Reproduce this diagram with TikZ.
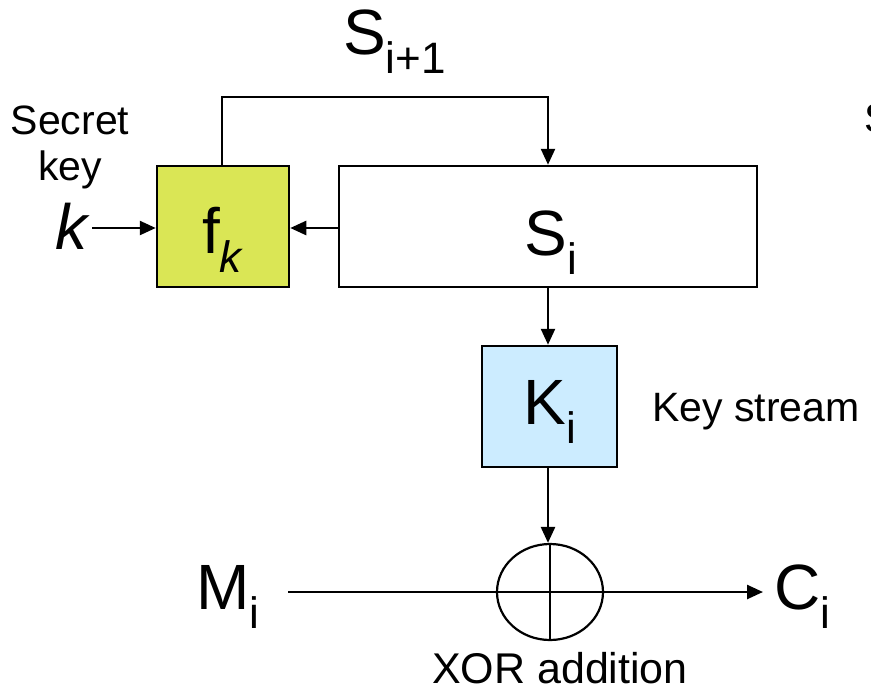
\documentclass[tikz,border=0pt]{standalone}
\usepackage{fontspec}
\setmainfont{Liberation Sans}
\usetikzlibrary{arrows.meta,shapes.geometric}
\definecolor{fkfill}{RGB}{218,230,85}
\definecolor{kifill}{RGB}{204,236,255}
\tikzset{
  conn/.style={line width=2.5pt, -{Triangle[length=16pt,width=14pt]}},
  box/.style={draw, line width=2.5pt, inner sep=0pt},
  big/.style={font=\fontsize{64}{70}\selectfont, inner sep=0pt},
  small/.style={font=\fontsize{41}{46}\selectfont, inner sep=0pt},
}
\newcommand{\sbs}[1]{\raisebox{-0.3em}{\fontsize{44}{46}\selectfont #1}}
\begin{document}
\begin{tikzpicture}[x=1pt,y=1pt]
\useasboundingbox (0,0) rectangle (871,-691);
% boxes
\node[box, fill=fkfill, minimum width=132pt, minimum height=121pt] (fk) at (223,-226.5) {};
\node[box, fill=white, minimum width=418pt, minimum height=121pt] (si) at (548,-226.5) {};
\node[box, fill=kifill, minimum width=135pt, minimum height=121pt] (ki) at (549.5,-406.5) {};
\node[draw, line width=2.2pt, ellipse, minimum width=106pt, minimum height=96pt, inner sep=0pt] (xor) at (550,-592) {};
% labels inside boxes
\node[big] at (222,-240) {f\sbs{\itshape k}};
\node[big] at (551,-243) {S\sbs{i}};
\node[big] at (550,-412) {K\sbs{i}};
% outside labels
\node[small] (sec) at (70,-120) {Secret};
\node[small] (key) at (70,-170) {key};
\node[big, font=\fontsize{64}{70}\selectfont\itshape] (k) at (72,-226) {k};
\node[big, anchor=west] (sip) at (343,-42) {S\sbs{i+1}};
\node[small, anchor=west] (ks) at (652,-412) {Key stream};
\node[small, anchor=west] (sfrag) at (864,-118) {S};
\node[big, anchor=west] (mi) at (196,-597) {M\sbs{i}};
\node[big, anchor=west] (ci) at (774,-597) {C\sbs{i}};
\node[small, font=\fontsize{43}{46}\selectfont, anchor=base] (xl) at (560,-683) {XOR addition};
% coordinates
\coordinate (kin) at (92,-228);
\coordinate (fbtop) at (222,-97);
\coordinate (fbright) at (548,-97);
\coordinate (mstart) at (288,-592);
\coordinate (cend) at (763,-592);
% connectors
\draw[conn] (kin) -- (fk.west |- kin);
\draw[conn] (si.west |- kin) -- (fk.east |- kin);
\draw[conn] (fk.north -| fbtop) -- (fbtop) -- (fbright) -- (si.north -| fbright);
\draw[conn] (si.south -| fbright) -- (ki.north -| fbright);
\draw[conn] (ki.south -| fbright) -- (xor.north -| fbright);
\draw[conn] (mstart) -- (cend);
\draw[line width=2.2pt] (xor.north) -- (xor.south);
\end{tikzpicture}
\end{document}
